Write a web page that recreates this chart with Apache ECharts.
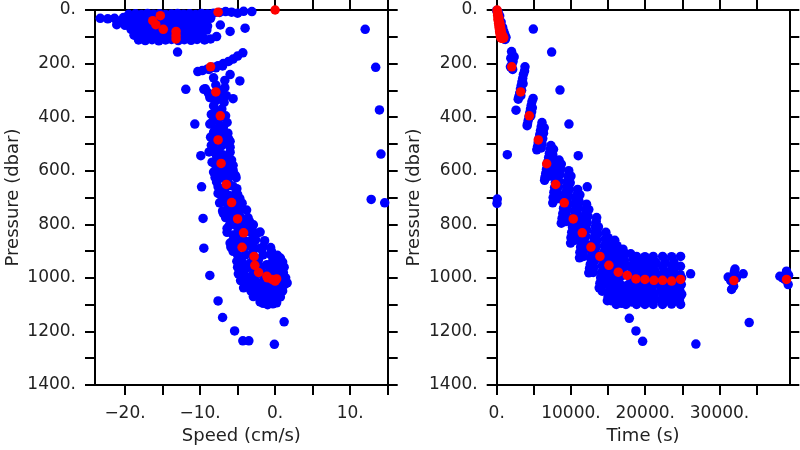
<!DOCTYPE html>
<html>
<head>
<meta charset="utf-8">
<script src="https://cdn.jsdelivr.net/npm/echarts@6/dist/echarts.min.js"></script>
<style>html,body{margin:0;padding:0;background:#fff}#c{width:800px;height:450px}</style>
</head>
<body>
<div id="c"></div>
<script>
// ---- tick / label values ----
const speedTicks = [-20, -15, -10, -5, 0, 5, 10, 15];
const speedLabels = [-20, -10, 0, 10];
const timeTicks = [0, 5000, 10000, 15000, 20000, 25000, 30000, 35000];
const timeLabels = [0, 10000, 20000, 30000];
const presTicks = [0, 100, 200, 300, 400, 500, 600, 700, 800, 900, 1000, 1100, 1200, 1300, 1400];
const presLabels = [0, 200, 400, 600, 800, 1000, 1200, 1400];

// ---- left panel: speed (cm/s) vs pressure (dbar) ----
const speedBlue = [
[-23.3,31],[-22.3,33],[-21.4,31],[-21.1,55],[-20.2,28],[-19.7,45],
[-19.5,16],[-18.6,14],[-17.8,17],[-17.0,13],[-16.2,16],[-15.4,14],[-14.6,17],[-13.8,15],[-13.0,13],[-12.2,16],[-11.4,14],[-10.6,17],[-9.8,13],[-9.0,15],[-8.2,12],[-7.4,9],[-6.6,6],[-5.8,8],[-5.0,12],[-4.2,5],[-3.1,6],
[-20.3,36],[-19.3,38],[-18.5,34],[-17.6,37],[-16.9,33],[-16.0,36],[-15.1,38],[-14.3,34],[-13.5,37],[-12.6,33],[-11.8,36],[-11.0,38],[-10.2,34],[-9.4,35],[-8.6,31],
[-20.0,57],[-19.0,55],[-18.2,58],[-17.4,54],[-16.6,56],[-15.7,59],[-14.8,55],[-14.0,57],[-13.1,53],[-12.3,58],[-11.5,56],[-10.6,54],[-9.8,57],[-9.0,60],[-7.3,56],
[-19.2,72],[-18.4,76],[-17.5,74],[-16.7,78],[-15.8,73],[-15.0,77],[-14.1,75],[-13.3,79],[-12.4,74],[-11.6,77],[-10.8,73],[-9.9,78],[-9.1,75],[-6.0,80],[-4.0,68],
[-18.8,94],[-17.9,97],[-17.0,93],[-16.2,98],[-15.3,95],[-14.5,99],[-13.6,94],[-12.8,97],[-12.0,93],[-11.1,98],[-10.3,95],[-9.5,105],[-7.8,99],
[-18.2,112],[-17.3,114],[-16.4,111],[-15.5,115],[-14.6,112],[-13.8,110],[-12.9,114],[-12.1,111],[-11.2,113],[-10.4,110],[-9.4,112],[-8.6,108],
[-13.0,157],[12.0,72],
[-10.3,230],[-9.7,226],[-9.0,220],[-8.3,214],[-7.6,208],[-6.9,200],[-6.2,192],[-5.6,183],[-5.0,172],[-4.3,160],[-8.8,222],[-7.9,216],[-7.0,209],[-6.0,241],[-4.7,265],[-6.7,263],[-8.2,253],[-9.3,294],[-11.9,296],[-9.5,296],
[-8.7,327],[-7.3,315],[-6.7,290],[-5.6,331],[-7.9,280],[-7.4,300],[-8.0,340],[-8.2,358],[-7.1,370],[-7.8,380],[-8.7,426],[-7.3,432],[-6.4,420],[-7.6,410],[-8.0,445],[-8.2,457],[-6.9,469],[-6.2,481],[-8.0,494],[-7.1,506],[-6.0,512],[-7.0,455],[-6.6,495],[-8.2,519],[-6.0,531],[-7.0,540],[-10.7,426],[-9.9,544],
[-8.9,310],[-6.5,320],[-7.7,335],[-6.8,345],[-8.5,390],[-6.6,395],[-7.2,400],[-8.3,415],[-6.9,440],[-7.5,460],[-6.3,460],[-8.6,475],[-7.4,485],[-6.0,490],[-8.5,505],[-7.5,525],[-6.5,550],[-8.8,530],[-7.8,545],[-6.8,565],[-5.8,560],
[-8.4,568],[-7.3,556],[-5.6,580],[-8.2,605],[-6.9,617],[-5.3,617],[-7.8,642],[-6.0,654],[-5.1,667],[-7.6,685],[-6.4,704],[-4.7,704],[-7.1,716],[-5.6,735],[-3.8,747],[-6.9,759],[-6.0,784],[-4.2,784],[-2.9,802],[-6.4,815],[-5.6,840],[-3.8,827],[-2.4,833],[-6.0,870],[-4.7,877],[-2.9,870],[-5.6,901],[-4.0,914],[-1.6,914],[0.7,926],[-5.1,938],[-3.3,944],[-1.1,951],[0.7,957],[-4.7,981],[-3.6,1000],[-1.8,981],[1.1,981],[1.6,1019],[-2.9,1025],[-1.6,1012],[0.7,1012],
[-7.0,590],[-6.3,630],[-6.8,670],[-5.4,690],[-4.9,725],[-6.3,740],[-5.3,765],[-4.9,800],[-3.4,790],[-4.6,850],[-3.2,860],[-2.0,890],[-0.5,900],[-3.0,905],[-2.2,930],[-0.3,935],[-3.9,965],[-2.6,970],[-0.4,965],[0.4,990],
[-8.0,575],[-7.0,577],[-6.1,573],[-7.5,600],[-6.5,602],[-5.6,598],[-8.0,625],[-7.2,627],[-6.2,623],[-5.2,626],[-7.6,660],[-6.6,662],[-5.6,658],
[-7.2,690],[-6.2,692],[-5.0,688],[-7.4,720],[-6.4,722],[-5.4,718],[-4.4,721],[-7.0,750],[-5.9,752],[-4.8,748],
[-6.6,775],[-5.6,777],[-4.6,773],[-3.6,776],[-6.1,805],[-5.1,807],[-4.1,803],[-3.1,806],
[-6.4,830],[-5.0,832],[-4.2,828],[-3.1,831],[-2.0,829],[-5.6,860],[-4.0,862],[-2.6,858],[-1.4,861],
[-5.9,885],[-5.0,887],[-3.9,883],[-2.9,886],[-1.6,884],[-0.6,887],[-5.0,915],[-3.0,917],[-0.6,913],[0.3,916],
[-4.4,940],[-2.3,942],[-0.2,938],[1.0,941],[-5.0,960],[-4.1,962],[-3.2,958],[-1.8,961],[-0.8,959],[0.3,962],[1.2,960],
[-4.2,985],[-3.0,987],[-2.1,983],[-1.0,986],[0.0,984],[0.9,987],[-4.6,1010],[-2.6,1012],[-0.3,1008],[1.1,1011],
[-3.9,1025],[-1.9,1027],[-0.8,1023],[0.3,1026],[1.3,1024],[-3.2,1050],[-2.1,1052],[-1.0,1048],[0.1,1051],[1.0,1049],
[-2.9,1070],[-1.9,1072],[-0.3,1068],[0.7,1071],[-1.6,1095],[-0.3,1097],
[-4.4,1000],[-3.5,1030],[-2.7,1060],[-2.0,1090],[-1.3,1070],[-0.5,1045],[0.3,1060],[0.9,1040],[1.4,1000],[-1.0,1100],[0.2,1093],[-0.9,1086],[-2.5,1040],[-3.8,1010],[-4.9,985],[-4.2,1037],[-1.5,1030],
[-9.8,660],[-9.6,778],[-9.5,889],[-8.7,991],
[-7.6,1086],[-7.0,1148],[-5.4,1198],[-4.3,1235],[-3.5,1235],[-0.1,1248],[1.2,1164],
[13.4,214],[13.9,373],[14.1,538],[12.8,707],[14.6,720]
];
const speedRed = [
[0,0],[-7.6,8],[-16.3,40],[-15.3,21],[-15.9,55],[-14.9,72],[-13.2,80],[-13.2,95],[-13.2,108],
[-8.6,212],[-7.9,306],[-7.3,395],[-7.6,485],[-7.2,573],[-6.5,651],[-5.8,719],[-5.0,780],[-4.2,832],[-4.4,886],
[-2.8,920],[-2.7,953],[-2.2,980],[-1.1,994],[-0.4,1006],[0.2,1004],[0.0,1012],[-1.0,1000]
];

// ---- right panel: time (s) vs pressure (dbar) ----
const timeBlue = [
[0,2],[150,12],[250,25],[350,38],[450,50],[550,62],[650,75],[750,88],[850,100],[1000,108],[1150,110],[1250,102],[1100,92],[950,80],[800,65],[600,45],[400,22],[200,8],
[2000,155],[2150,168],[1900,180],[2200,192],[2050,203],[1850,212],[2150,222],[2350,175],[3810,212],
[3750,228],[3600,240],[3500,255],[3400,268],[3300,282],[3200,295],[3100,310],[3000,322],[2900,333],[3550,275],[3350,300],[3250,320],
[4900,330],[4750,342],[4650,356],[4550,370],[4450,384],[4350,398],[4250,412],[4150,425],[4100,432],[4800,365],[4600,395],[4700,380],
[6100,420],[6000,435],[5900,450],[5800,465],[5700,480],[5600,495],[5500,510],[5400,522],[6000,470],[5850,500],
[6400,440],[6300,460],[6200,480],[6100,500],[6000,515],
[7300,506],[7200,520],[7100,535],[7000,550],[6900,565],[6800,580],[6700,595],[6600,610],[6500,625],[6450,636],[7150,560],[6900,600],
[7650,520],[7550,540],[7450,560],[7350,580],[7250,600],[7150,620],
[8400,560],[8300,575],[8200,590],[8100,608],[8000,626],[7900,644],[7800,662],[7700,680],[7600,700],[7550,720],[8250,620],[8050,660],[7850,700],
[8700,575],[8600,595],[8500,615],[8400,640],[8300,660],[8200,685],[8100,705],
[9700,600],[9600,620],[9500,640],[9400,660],[9300,680],[9200,700],[9100,720],[9000,740],[8900,760],[8800,778],[8700,796],[9550,690],[9350,730],[9150,765],
[10000,620],[9900,645],[9800,670],[9700,695],[9600,720],[9500,745],[9400,770],[9300,790],
[10900,670],[10800,690],[10700,710],[10600,730],[10500,750],[10400,770],[10300,790],[10200,810],[10100,830],[10000,850],[9950,870],[10750,760],[10450,810],[10250,850],
[11200,690],[11100,715],[11000,740],[10900,765],[10800,790],[10700,815],[10600,840],[10500,860],
[12100,725],[12000,745],[11900,765],[11800,785],[11700,805],[11600,825],[11500,845],[11400,865],[11300,885],[11200,905],[11150,925],[11900,830],[11650,870],[11400,910],
[12400,745],[12300,770],[12200,795],[12100,820],[12000,845],[11900,870],[11800,895],[11700,920],
[13400,790],[13300,810],[13200,830],[13100,850],[13000,870],[12900,890],[12800,910],[12700,930],[12600,950],[12500,965],[12400,981],[13250,880],[12950,930],[13350,850],
[13700,810],[13600,835],[13500,860],[13400,885],[13300,910],[13200,935],[13100,960],[13000,980],
[14700,830],[14600,855],[14500,880],[14400,905],[14300,930],[14200,955],[14100,980],[14000,1000],[13900,1020],[13800,1037],[14550,950],[14300,1000],[14650,900],
[15000,850],[14900,875],[14800,900],[14700,925],[14600,950],[14500,975],[14400,1000],[14300,1025],[14200,1050],
[15900,860],[15800,885],[15700,910],[15600,935],[15500,960],[15400,985],[15300,1010],[15200,1030],[15100,1050],[15000,1070],[14900,1085],[15750,990],[15500,1040],[15850,950],[15300,1070],
[16200,880],[16100,905],[16000,930],[15900,955],[15800,980],[15700,1005],[15600,1030],[15500,1060],[15400,1085],
[17000,893],[16900,918],[16800,943],[16700,968],[16600,993],[16500,1018],[16400,1043],[16300,1065],[16200,1085],[16100,1099],[16950,1030],[16700,1070],[17050,990],[16500,1090],
[17300,910],[17200,935],[17100,960],[17000,1050],[16900,1075],[16800,1095],
[18050,910],[17950,957],[17850,988],[17750,1025],[17650,1049],[17550,1068],[17450,1086],[17400,1099],[18000,1040],[17800,1080],[18100,1000],
[18350,930],[18300,960],[18250,1010],[18200,1060],[18150,1090],
[18830,920],[18850,957],[18780,988],[18930,1025],[18730,1049],[18820,1068],[18680,1086],[18830,1099],[18980,1060],[18630,1040],[18990,1000],
[19130,940],[19100,975],[19080,1015],[19050,1080],
[19960,921],[19950,957],[19910,989],[20060,1024],[19860,1049],[19970,1068],[19810,1086],[19960,1099],[20110,1061],[19760,1040],[20100,1001],
[20260,940],[20230,975],[20210,1015],[20180,1080],
[21080,920],[21090,958],[21030,988],[21180,1025],[20980,1050],[21080,1067],[20930,1086],[21070,1099],[21230,1060],[20880,1041],[21230,999],
[21380,940],[21350,975],[21330,1015],[21300,1080],
[22340,920],[22330,957],[22290,987],[22440,1025],[22240,1049],[22350,1068],[22190,1087],[22340,1099],[22490,1059],[22140,1040],[22480,1000],
[22640,940],[22610,975],[22590,1015],[22560,1080],
[23550,921],[23560,956],[23500,988],[23650,1026],[23450,1049],[23550,1069],[23400,1086],[23550,1098],[23700,1060],[23350,1040],[23700,1001],
[23850,940],[23820,975],[23800,1015],[23770,1080],
[24760,920],[24750,957],[24710,988],[24860,1025],[24660,1048],[24770,1068],[24610,1086],[24760,1099],[24910,1061],[24560,1040],[24900,1000],
[26110,985],[17860,1151],[18750,1198],[19650,1237],[26820,1247],[34000,1167],
[32090,967],[31170,997],[33190,985],[31630,1043],[31900,1031],[32000,978],[31500,1010],[32300,1000],
[38130,994],[39030,975],[39250,1025],[38800,1006],[38500,1000],[39300,990],
[4930,71],[7400,157],[8520,299],[9730,426],[10980,544],[2600,374],[1430,540],[80,706],[40,722],[12190,660],[13460,775]
];
const timeRed = [
[50,0],[100,10],[140,20],[180,30],[220,40],[260,50],[300,60],[350,70],[400,80],[450,90],[520,100],[600,105],
[300,30],[420,50],[550,70],[650,85],[750,95],[200,35],[400,65],[500,85],[700,100],[800,106],[150,15],[350,45],
[850,98],[950,104],[600,80],[480,60],
[2020,212],[3230,306],[4390,395],[5600,485],[6730,574],[7940,651],[9100,720],[10310,780],[11520,832],[12690,885],
[13900,920],[15110,953],[16370,979],[17580,991],[18750,1004],[19960,1006],[21170,1009],[22340,1009],[23550,1012],[24760,1006],
[31940,1010],[39030,1006]
];

const FONT = 'DejaVu Sans';
const TXT = '#222';
const SYM = 9.5;
const line = {show: true, onZero: false, lineStyle: {color: '#000', width: 2}};
function fmtNum(v) { return (v < 0 ? '\u2212' + Math.abs(v) : String(v)) + '.'; }
function xAx(grid, pos, min, max, ticks, labels, name) {
  return {
    type: 'value', gridIndex: grid, position: pos, min: min, max: max,
    axisLine: line, splitLine: {show: false},
    axisTick: {show: true, inside: false, length: 10, lineStyle: {color: '#000', width: 2}, customValues: ticks},
    axisLabel: labels ? {show: true, customValues: labels, formatter: fmtNum, fontSize: 17, color: TXT, fontFamily: FONT, margin: 20} : {show: false},
    name: name || '', nameLocation: 'middle', nameGap: 42,
    nameTextStyle: {fontSize: 18, color: TXT, fontFamily: FONT}
  };
}
function yAx(grid, pos, labels, name) {
  return {
    type: 'value', gridIndex: grid, position: pos, min: 0, max: 1400, inverse: true,
    axisLine: line, splitLine: {show: false},
    axisTick: {show: true, inside: false, length: 10, lineStyle: {color: '#000', width: 2}, customValues: presTicks},
    axisLabel: labels ? {show: true, customValues: presLabels, formatter: fmtNum, fontSize: 17, color: TXT, fontFamily: FONT, margin: 19} : {show: false},
    name: name || '', nameLocation: 'middle', nameGap: 73,
    nameTextStyle: {fontSize: 18, color: TXT, fontFamily: FONT}
  };
}

const chart = echarts.init(document.getElementById('c'), null, {renderer: 'canvas'});
chart.setOption({
  animation: false,
  backgroundColor: '#fff',
  grid: [
    {left: 95, top: 10, width: 292.7, height: 377.5},
    {left: 496.7, top: 10, width: 292.6, height: 377.5}
  ],
  xAxis: [
    xAx(0, 'bottom', -24, 15, speedTicks, speedLabels, 'Speed (cm/s)'),
    xAx(0, 'top', -24, 15, speedTicks, null),
    xAx(1, 'bottom', 0, 39400, timeTicks, timeLabels, 'Time (s)'),
    xAx(1, 'top', 0, 39400, timeTicks, null)
  ],
  yAxis: [
    yAx(0, 'left', true, 'Pressure (dbar)'),
    yAx(0, 'right', false),
    yAx(1, 'left', true, 'Pressure (dbar)'),
    yAx(1, 'right', false)
  ],
  series: [
    {type: 'scatter', xAxisIndex: 0, yAxisIndex: 0, data: speedBlue, symbolSize: SYM, itemStyle: {color: '#0000ff', opacity: 1}},
    {type: 'scatter', xAxisIndex: 0, yAxisIndex: 0, data: speedRed, symbolSize: SYM, itemStyle: {color: '#ff0000', opacity: 1}},
    {type: 'scatter', xAxisIndex: 2, yAxisIndex: 2, data: timeBlue, symbolSize: SYM, itemStyle: {color: '#0000ff', opacity: 1}},
    {type: 'scatter', xAxisIndex: 2, yAxisIndex: 2, data: timeRed, symbolSize: SYM, itemStyle: {color: '#ff0000', opacity: 1}}
  ]
});
</script>
</body>
</html>
